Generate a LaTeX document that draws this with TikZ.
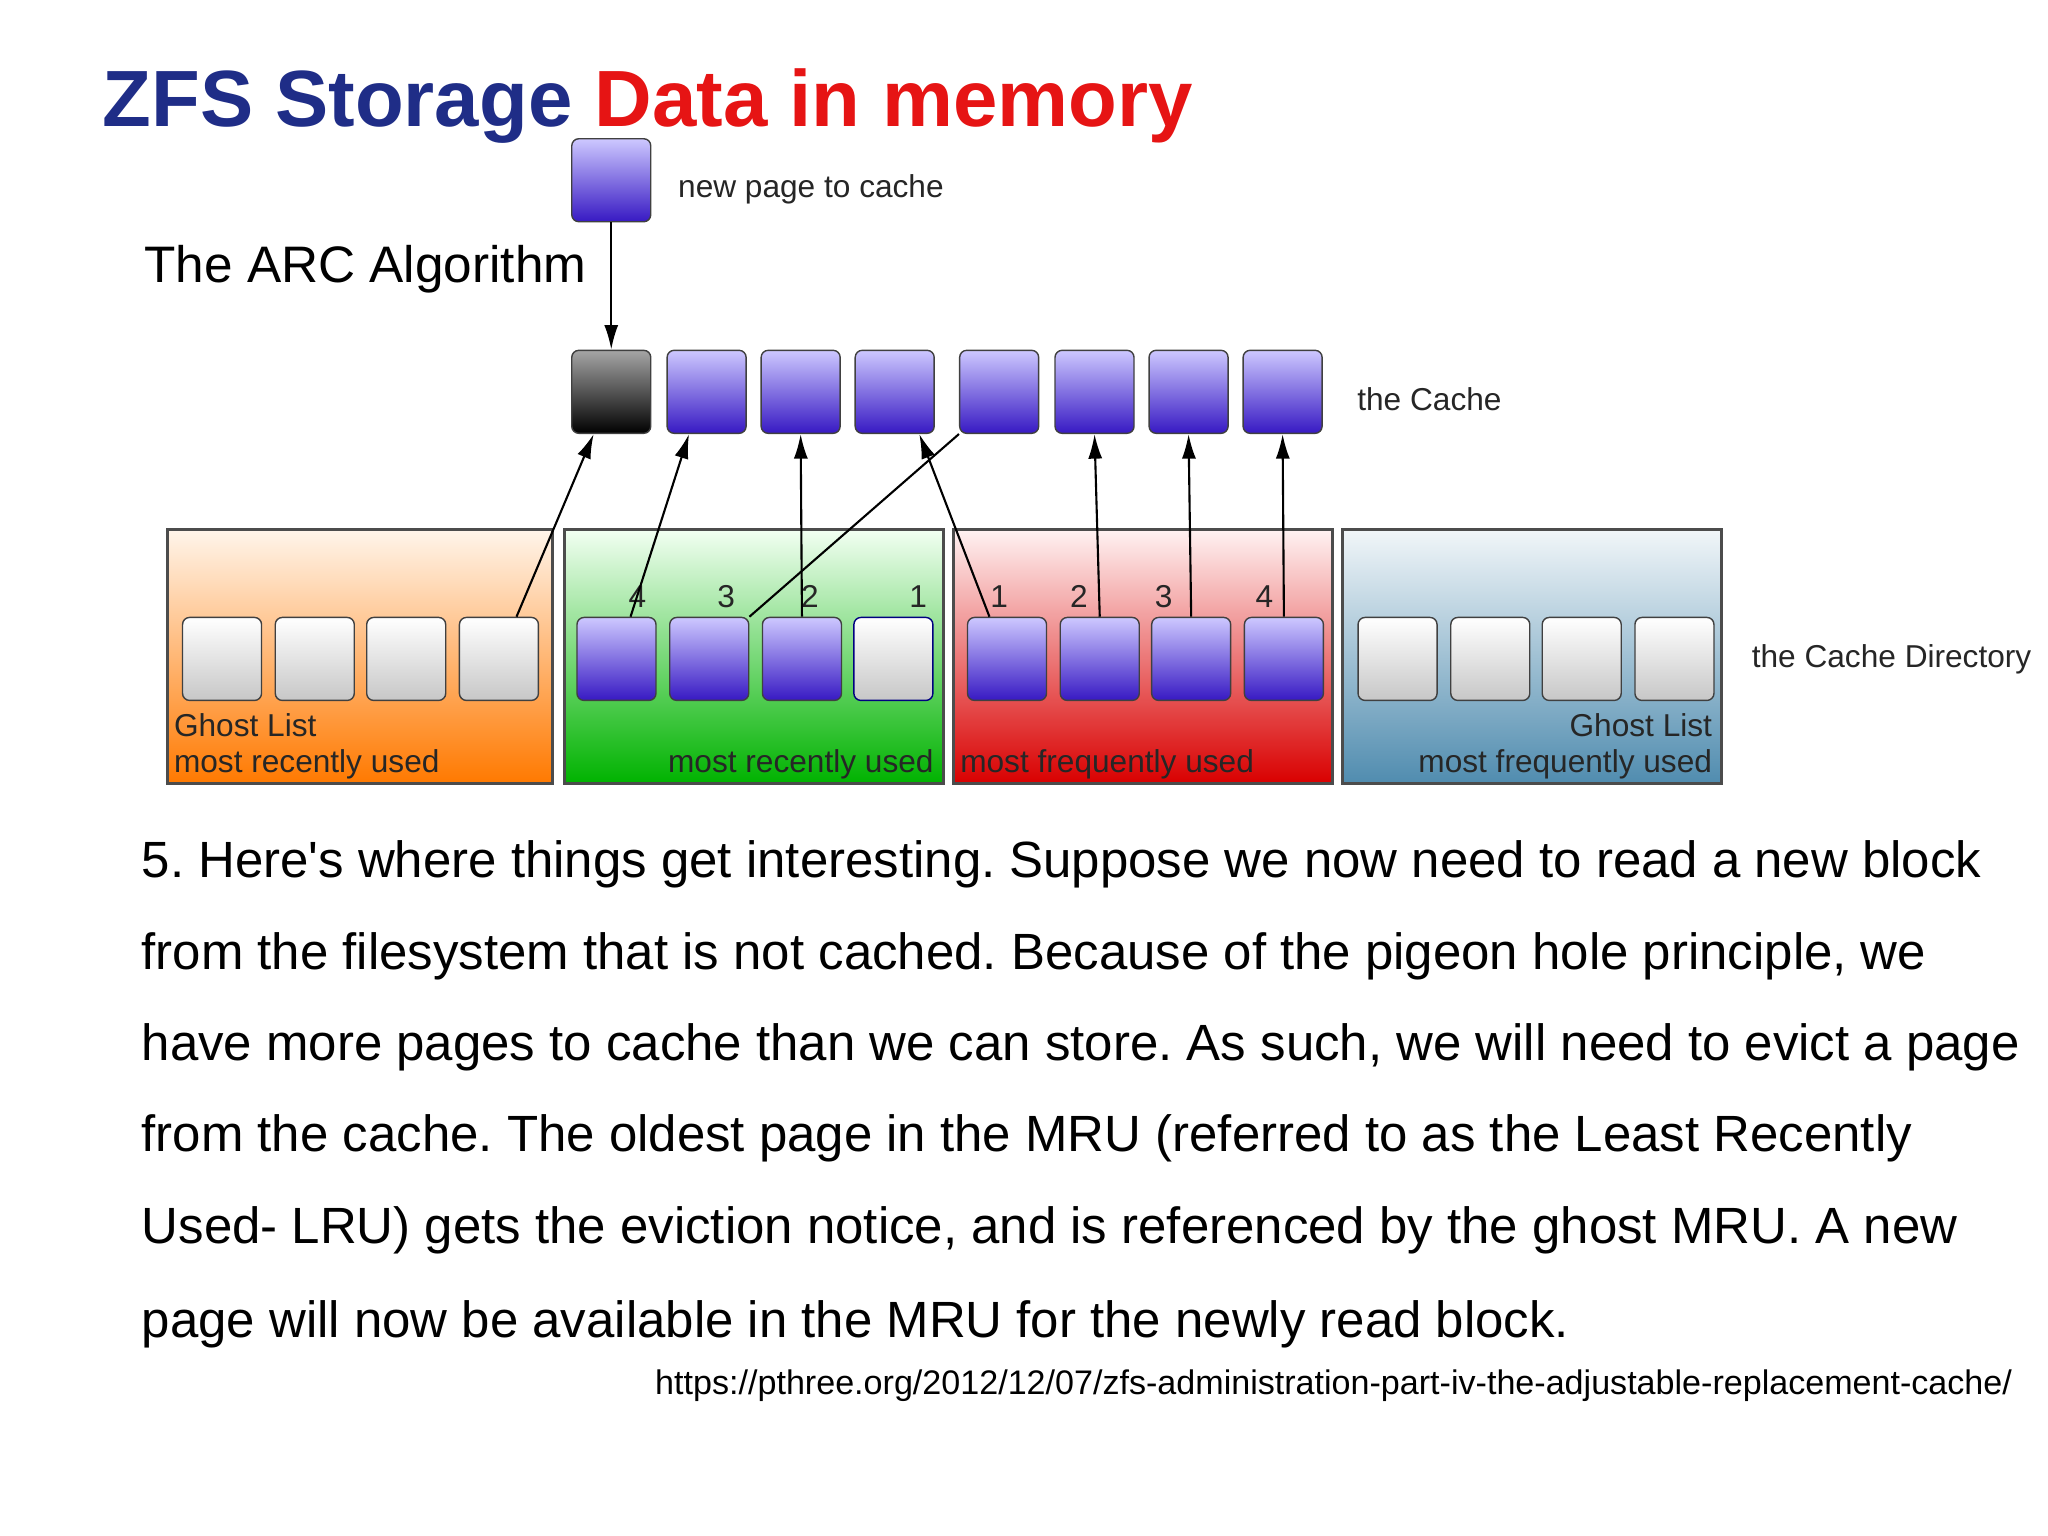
\documentclass[tikz,border=0pt]{standalone}
\usepackage{fontspec}
\setmainfont{Liberation Sans}
\usetikzlibrary{arrows.meta}
\definecolor{titleblue}{RGB}{31,45,135}
\definecolor{titlered}{RGB}{230,20,20}
\definecolor{pagetop}{RGB}{205,200,255}
\definecolor{pagebot}{RGB}{55,25,195}
\definecolor{ghostblue}{RGB}{80,140,175}
\tikzset{page/.style={ % a single cache page
draw=black!75, rounded corners=2pt, inner sep=0pt,
minimum width=0.79cm, minimum height=0.83cm},
bluepage/.style={page, top color=pagetop, bottom color=pagebot},
greypage/.style={page, top color=white, bottom color=black!22},
blackpage/.style={page, top color=black!35, bottom color=black},
panel/.style={draw=black!70, thick, minimum width=3.85cm, minimum height=2.54cm, inner sep=0pt},
lbl/.style={font=\fontsize{9}{11}\selectfont, text=black!85, inner sep=1pt},
body/.style={anchor=base west, font=\fontsize{14.5}{17}\selectfont, inner sep=0pt},
arr/.style={-{Latex[length=7pt,width=4pt]}, semithick}}
\begin{document}
\frenchspacing
\begin{tikzpicture}[x=0.01306cm,y=-0.01306cm]
\useasboundingbox[fill=white] (0,0) rectangle (1568,1176);
% title
\node[anchor=base west, inner sep=0pt, font=\bfseries\fontsize{22.7}{26}\selectfont] (title) at (78,97)
  {\textcolor{titleblue}{ZFS Storage} \textcolor{titlered}{Data in memory}};
\node[anchor=base west, inner sep=0pt, font=\fontsize{14.6}{18}\selectfont] (arc) at (110,216) {The ARC Algorithm};
% new page and the cache
\node[bluepage] (new) at (468,138) {};
\node[lbl, anchor=west] (newlbl) at (516,145) {new page to cache};
\node[blackpage] (c1) at (468,300) {};
\foreach \x [count=\i from 2] in {541,613,685,765,838,910,982}
  \node[bluepage] (c\i) at (\x,300) {};
\node[lbl, anchor=west] (cachelbl) at (1036,306) {the Cache};
\draw[arr] (new) -- (c1);
% directory panels
\node[panel, top color=orange!8, bottom color=orange!95!red] (po) at (275.5,502.5) {};
\node[panel, top color=green!5, bottom color=green!70!black, minimum width=3.79cm] (pg) at (577,502.5) {};
\node[panel, top color=red!5, bottom color=red!85!black, minimum width=3.79cm] (pr) at (875,502.5) {};
\node[panel, top color=ghostblue!8, bottom color=ghostblue, minimum width=3.79cm] (pb) at (1173,502.5) {};
\foreach \x [count=\i] in {170,241,311,382}
  \node[greypage] (o\i) at (\x,504.5) {};
\foreach \x [count=\i] in {472,543,614}
  \node[bluepage] (g\i) at (\x,504.5) {};
\node[greypage, draw=blue!50!black] (g4) at (684,504.5) {};
\foreach \x [count=\i] in {771,842,912,983}
  \node[bluepage] (r\i) at (\x,504.5) {};
\foreach \x [count=\i] in {1070,1141,1211,1282}
  \node[greypage] (b\i) at (\x,504.5) {};
% numbers
\foreach \x/\n [count=\i] in {488/4,556/3,620/2,703/1,765/1,826/2,891/3,968/4}
  \node[lbl] (n\i) at (\x,457) {\n};
% panel labels
\node[lbl, anchor=west] (ol1) at (130,555) {Ghost List};
\node[lbl, anchor=west] (ol2) at (130,585) {most recently used};
\node[lbl, anchor=east] (gl) at (718,585) {most recently used};
\node[lbl, anchor=west] (rl) at (732,585) {most frequently used};
\node[lbl, anchor=east] (bl1) at (1314,555) {Ghost List};
\node[lbl, anchor=east] (bl2) at (1314,585) {most frequently used};
\node[lbl, anchor=west] (dirlbl) at (1338,505) {the Cache Directory};
% connectors
\draw[arr] ([xshift=5pt]o4.north) -- ([xshift=-5pt]c1.south);
\draw[arr] ([xshift=4pt]g1.north) -- ([xshift=-5pt]c2.south);
\draw[arr] (g3.north) -- (c3.south);
\draw[semithick] (g2.north east) -- (c5.south west);
\draw[arr] ([xshift=-5pt]r1.north) -- ([xshift=7pt]c4.south);
\draw[arr] (r2.north) -- (c6.south);
\draw[arr] (r3.north) -- (c7.south);
\draw[arr] (r4.north) -- (c8.south);
% text
\node[body] (t1) at (108,672) {5. Here\textquotesingle s where things get interesting. Suppose we now need to read a new block};
\node[body] (t2) at (108,742) {from the filesystem that is not cached. Because of the pigeon hole principle, we};
\node[body] (t3) at (108,812) {have more pages to cache than we can store. As such, we will need to evict a page};
\node[body] (t4) at (108,882) {from the cache. The oldest page in the MRU (referred to as the Least Recently};
\node[body] (t5) at (108,952) {Used- LRU) gets the eviction notice, and is referenced by the ghost MRU. A new};
\node[body] (t6) at (108,1024) {page will now be available in the MRU for the newly read block.};
\node[anchor=base east, inner sep=0pt, font=\fontsize{9.7}{11}\selectfont] (url) at (1541,1068)
  {https://pthree.org/2012/12/07/zfs-administration-part-iv-the-adjustable-replacement-cache/};
\end{tikzpicture}
\end{document}
